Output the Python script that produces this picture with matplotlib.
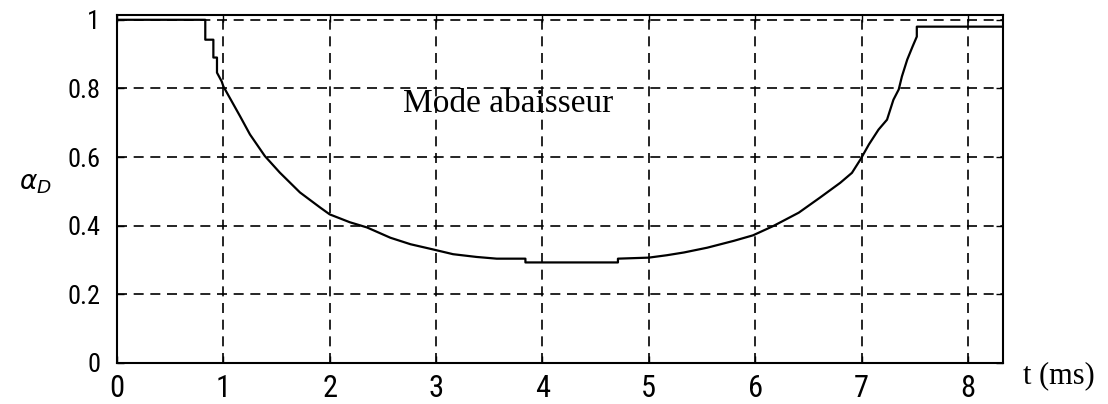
import matplotlib
matplotlib.use("Agg")
import matplotlib.pyplot as plt

# Duty ratio alpha_D over one half-period (buck mode)
t_ms = [0.0, 0.83, 0.83, 0.906, 0.906, 0.94, 0.94, 0.985, 1.0, 1.157, 1.25,
        1.39, 1.53, 1.72, 1.91, 2.0, 2.19, 2.35, 2.57, 2.76, 2.97, 3.16,
        3.38, 3.57, 3.84, 3.84, 4.71, 4.71, 5.0, 5.17, 5.33, 5.55, 5.8,
        5.98, 6.17, 6.41, 6.61, 6.80, 6.91, 6.99, 7.07, 7.16, 7.24, 7.30,
        7.35, 7.38, 7.43, 7.48, 7.52, 7.52, 8.33]
alpha_d = [1.0, 1.0, 0.942, 0.942, 0.89, 0.89, 0.846, 0.82, 0.806, 0.719,
           0.666, 0.603, 0.555, 0.497, 0.453, 0.433, 0.41, 0.395, 0.365,
           0.346, 0.331, 0.317, 0.309, 0.304, 0.304, 0.293, 0.293, 0.304,
           0.307, 0.314, 0.322, 0.336, 0.356, 0.372, 0.399, 0.438, 0.482,
           0.525, 0.554, 0.593, 0.637, 0.680, 0.709, 0.767, 0.797, 0.835,
           0.884, 0.922, 0.951, 0.98, 0.98]

x_ticks = [0, 1, 2, 3, 4, 5, 6, 7, 8]
x_tick_labels = ["0", "1", "2", "3", "4", "5", "6", "7", "8"]
y_ticks = [0, 0.2, 0.4, 0.6, 0.8, 1.0]
y_tick_labels = ["0", "0.2", "0.4", "0.6", "0.8", "1"]

narrow = ["Roboto Condensed", "Liberation Sans", "DejaVu Sans"]
serif = ["Liberation Serif", "DejaVu Serif"]

fig = plt.figure(figsize=(11.08, 4.04), dpi=100)
ax = fig.add_axes([0.1056, 0.1015, 0.7996, 0.8614])

ax.plot(t_ms, alpha_d, color="black", lw=1.6)

ax.set_xlim(0, 8.33)
ax.set_ylim(0.006, 1.014)
ax.set_xticks(x_ticks)
ax.set_xticklabels(x_tick_labels, family=narrow, fontsize=22)
ax.set_yticks(y_ticks)
ax.set_yticklabels(y_tick_labels, family=narrow, fontsize=19)
ax.tick_params(direction="in", length=5, width=1, top=True, right=True,
               color="black")
ax.tick_params(axis="x", pad=8)
ax.tick_params(axis="y", pad=12)

ax.grid(True, color="black", linestyle=(0, (6, 4)), lw=1.2)
for s in ax.spines.values():
    s.set_linewidth(1.5)
    s.set_color("black")

ax.text(0.441, 0.745, "Mode abaisseur", transform=ax.transAxes,
        ha="center", va="center", family=serif, fontsize=24)
fig.text(0.032, 0.548, r"$\alpha_D$", ha="center", va="center", fontsize=19)
fig.text(0.956, 0.07, "t (ms)", ha="center", va="center",
         family=serif, fontsize=22)

fig.savefig("out.png", dpi=100, facecolor="white")
